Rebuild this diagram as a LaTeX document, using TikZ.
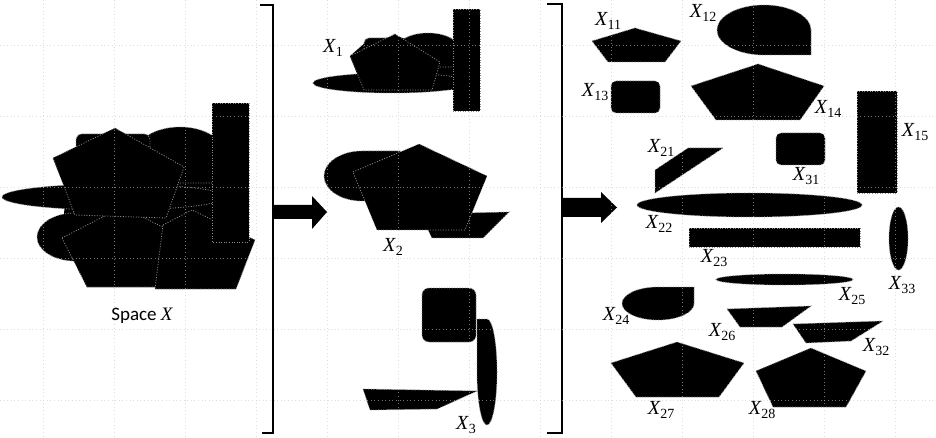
\documentclass[tikz,border=0pt]{standalone}
\usepackage{fontspec}
\setmainfont{Carlito}
\newfontfamily\lbsf{Liberation Serif}
\newcommand\Xlab[1]{{\lbsf\itshape X}\kern0.3pt\raisebox{-0.45ex}{\lbsf\fontsize{14}{15}\selectfont #1}}
\begin{document}
\begin{tikzpicture}[x=1pt,y=-1pt,
  shp/.style={fill=black,draw=black!45,line width=0.8pt,dash pattern=on 1pt off 1.6pt},
  fillr/.style={fill=black},
  lab/.style={font=\fontsize{20}{21}\selectfont,inner sep=0pt},
  brk/.style={line width=2pt},
  gridln/.style={draw=black!22,draw opacity=0.58,line width=0.6pt,dash pattern=on 0.8pt off 2.8pt},
  barrow/.style={fill=black}]
\useasboundingbox (0,0) rectangle (936,438);
\fill[white] (0,0) rectangle (936,438);

% ---------- Space X ----------
\path[fillr] (62,238) -- (66,190) -- (53,158) -- (115,130) -- (138,142) -- (177,128) -- (212,135) -- (249,240) -- (236,287) -- (87,287) -- cycle;
\path[shp] (114,197) ellipse [x radius=112, y radius=13];
\path[shp] (113,237) arc[start angle=0,end angle=270,x radius=38,y radius=24] -- (113,213) -- cycle;
\path[shp] (62,238) -- (122,207) -- (185,238) -- (165,287) -- (87,287) -- cycle;
\path[shp] (163,225) -- (192,210) -- (255,240) -- (236,289) -- (155,289) -- cycle;
\path[shp] (225,155) arc[start angle=0,end angle=-270,x radius=45,y radius=28] -- (225,183) -- cycle;
\path[shp] (212,103) rectangle (249,242);
\path[shp,rounded corners=6pt] (76,134) rectangle (150,178);
\path[shp] (53,158) -- (115,128) -- (184,167) -- (166,218) -- (75,215) -- cycle;

% ---------- X1 ----------
\path[fillr] (364,90) -- (350,56) -- (366,42) -- (395,36) -- (410,40) -- (453,42) -- (453,90) -- cycle;
\path[shp] (392,83) ellipse [x radius=79, y radius=10];
\path[shp] (460,50) arc[start angle=0,end angle=-270,x radius=32,y radius=17] -- (460,67) -- cycle;
\path[shp,rounded corners=5pt] (364,38) rectangle (398,70);
\path[shp] (350,56) -- (395,34) -- (440,62) -- (432,90) -- (364,90) -- cycle;
\path[shp] (453,9) rectangle (480,111);

% ---------- X2 ----------
\path[shp] (400,176) arc[start angle=0,end angle=270,x radius=38,y radius=25] -- (400,151) -- cycle;
\path[shp] (420,214) -- (509,212) -- (483,238) -- (432,238) -- cycle;
\path[shp] (353,172) -- (419,144) -- (487,176) -- (465,230) -- (377,230) -- cycle;

% ---------- X3 ----------
\path[shp,rounded corners=7pt] (422,288) rectangle (476,342);
\path[shp] (487,319) arc[start angle=-90,end angle=180,x radius=10,y radius=53] -- (477,319) -- cycle;
\path[shp] (363,389) -- (477,391) -- (437,409) -- (370,410) -- cycle;

% ---------- right column ----------
\path[shp] (592,41) -- (635,28) -- (681,41) -- (665,62) -- (608,62) -- cycle;
\path[shp] (811,30) arc[start angle=0,end angle=-270,x radius=47,y radius=25] -- (811,55) -- cycle;
\path[shp,rounded corners=5pt] (611,81) rectangle (660,113);
\path[shp] (691,86) -- (758,64) -- (824,86) -- (800,120) -- (716,120) -- cycle;
\path[shp] (857,91) rectangle (897,193);
\path[shp] (655,170) -- (688,148) -- (723,148) -- (655,193) -- cycle;
\path[shp,rounded corners=5pt] (776,133) rectangle (825,165);
\path[shp] (749.5,205) ellipse [x radius=112.5, y radius=12];
\path[shp] (689,228) rectangle (860,247);
\path[shp] (898.5,238.5) ellipse [x radius=9.5, y radius=31.5];
\path[shp] (784.5,279.5) ellipse [x radius=68.5, y radius=5.5];
\path[shp] (694,303.5) arc[start angle=0,end angle=270,x radius=36,y radius=16.5] -- (694,287) -- cycle;
\path[shp] (727,309) -- (811,306) -- (782,327) -- (740,327) -- cycle;
\path[shp] (793,324) -- (883,321) -- (851,341) -- (806,343) -- cycle;
\path[shp] (611,363) -- (677,342) -- (744,363) -- (719,397) -- (636,397) -- cycle;
\path[shp] (756,371) -- (811,348) -- (866,371) -- (846,407) -- (773,407) -- cycle;

% ---------- brackets and arrows ----------
\draw[brk] (260,5) -- (273,5) -- (273,433) -- (262,433);
\draw[brk] (547,4) -- (562,4) -- (562,433) -- (547,433);
\fill[barrow] (274,205) -- (312,205) -- (312,196) -- (327,212) -- (312,229) -- (312,219) -- (274,219) -- cycle;
\fill[barrow] (563,198) -- (601,198) -- (601,192) -- (617,207.5) -- (601,223) -- (601,217) -- (563,217) -- cycle;

% ---------- grid ----------
\foreach \k in {0,...,12} \draw[gridln] (43+71*\k,0) -- (43+71*\k,438);
\foreach \k in {0,...,5} \draw[gridln] (0,45+71*\k) -- (936,45+71*\k);

% ---------- labels ----------
\node[font=\fontsize{19}{20}\selectfont,inner sep=0pt] (spx) at (142,316) {Space {\lbsf\itshape X}};
\node[lab] (l1) at (333,48) {\Xlab{1}};
\node[lab] (l2) at (393,247) {\Xlab{2}};
\node[lab] (l3) at (466,425) {\Xlab{3}};
\node[lab] (l11) at (608,21) {\Xlab{11}};
\node[lab] (l12) at (703,13) {\Xlab{12}};
\node[lab] (l13) at (595,92) {\Xlab{13}};
\node[lab] (l14) at (828,109) {\Xlab{14}};
\node[lab] (l15) at (915,132) {\Xlab{15}};
\node[lab] (l21) at (661,148) {\Xlab{21}};
\node[lab] (l31) at (806,176) {\Xlab{31}};
\node[lab] (l22) at (659,224) {\Xlab{22}};
\node[lab] (l23) at (714,258) {\Xlab{23}};
\node[lab] (l33) at (902,285) {\Xlab{33}};
\node[lab] (l25) at (852,296) {\Xlab{25}};
\node[lab] (l24) at (616,316) {\Xlab{24}};
\node[lab] (l26) at (722,332) {\Xlab{26}};
\node[lab] (l32) at (876,347) {\Xlab{32}};
\node[lab] (l27) at (661,410) {\Xlab{27}};
\node[lab] (l28) at (762,410) {\Xlab{28}};
\end{tikzpicture}
\end{document}
